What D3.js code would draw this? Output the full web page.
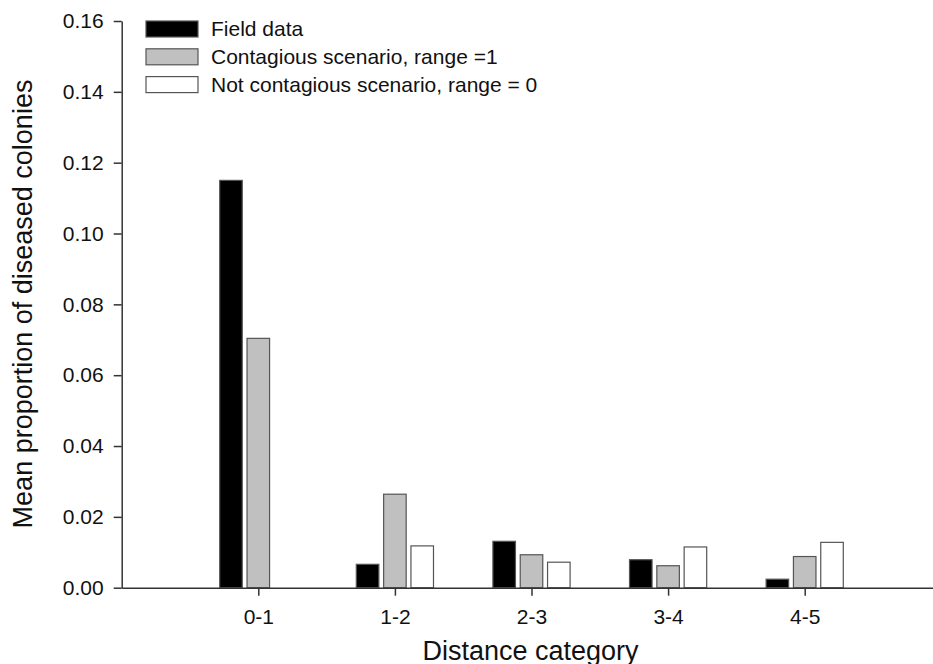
<!DOCTYPE html>
<html>
<head>
<meta charset="utf-8">
<script src="https://cdn.jsdelivr.net/npm/d3@7"></script>
<style>
  html, body { margin: 0; padding: 0; background: #fff; }
  svg { display: block; font-family: Arial, "Liberation Sans", sans-serif; }
</style>
</head>
<body>
<svg id="chart" width="933" height="664"></svg>
<script>
// Distance categories and mean proportion of diseased colonies per series
const categories = ["0-1", "1-2", "2-3", "3-4", "4-5"];
const fieldData = [0.115, 0.0066, 0.0131, 0.0079, 0.0024];
const contagious = [0.0704, 0.0264, 0.0093, 0.0062, 0.0088];
const notContagious = [0, 0.0118, 0.0072, 0.0115, 0.0128];
const seriesNames = ["Field data", "Contagious scenario, range =1", "Not contagious scenario, range = 0"];
const yTicks = [0, 0.02, 0.04, 0.06, 0.08, 0.10, 0.12, 0.14, 0.16];

const series = [
  { name: seriesNames[0], values: fieldData, fill: "#000000" },
  { name: seriesNames[1], values: contagious, fill: "#c0c0c0" },
  { name: seriesNames[2], values: notContagious, fill: "#ffffff" }
];

const svg = d3.select("#chart");
const axisColor = "#333";
const barStroke = "#555";

// Category positions 1..5 on a 0..6 axis
const x = d3.scaleLinear().domain([0, 6]).range([121.7, 941.3]);
const y = d3.scaleLinear().domain([0, 0.16]).range([587.7, 21]);

const barW = 0.165;   // bar width in category units
const pitch = 0.2;    // spacing between bars in a group

// Bars
series.forEach((s, si) => {
  const offset = (si - 1) * pitch;
  svg.append("g").selectAll("rect")
    .data(s.values.map((v, i) => ({ v, i })).filter(d => d.v > 0))
    .join("rect")
    .attr("x", d => x(d.i + 1 + offset - barW / 2))
    .attr("width", d => x(d.i + 1 + offset + barW / 2) - x(d.i + 1 + offset - barW / 2))
    .attr("y", d => y(d.v))
    .attr("height", d => y(0) - y(d.v))
    .attr("fill", s.fill)
    .attr("stroke", barStroke)
    .attr("stroke-width", 1.2);
});

// Y axis
const yAxis = svg.append("g")
  .attr("transform", `translate(${x(0)},0)`)
  .call(d3.axisLeft(y).tickValues(yTicks).tickFormat(d3.format(".2f")).tickSize(8).tickSizeOuter(0).tickPadding(10));
yAxis.select(".domain").attr("stroke", axisColor).attr("stroke-width", 1.5);
yAxis.selectAll(".tick line").attr("stroke", axisColor).attr("stroke-width", 1.5);
yAxis.selectAll(".tick text").attr("fill", "#111").style("font-size", "21px");

// X axis
const xAxis = svg.append("g")
  .attr("transform", `translate(0,${y(0)})`)
  .call(d3.axisBottom(x).tickValues(d3.range(1, categories.length + 1))
    .tickFormat(d => categories[d - 1]).tickSize(8).tickSizeOuter(0).tickPadding(13));
xAxis.select(".domain").attr("stroke", axisColor).attr("stroke-width", 1.5);
xAxis.selectAll(".tick line").attr("stroke", axisColor).attr("stroke-width", 1.5);
xAxis.selectAll(".tick text").attr("fill", "#111").style("font-size", "21px");

// Axis titles
svg.append("text")
  .attr("x", 530.5)
  .attr("y", 659.5)
  .attr("text-anchor", "middle")
  .attr("fill", "#111")
  .style("font-size", "27px")
  .text("Distance category");

svg.append("text")
  .attr("transform", "translate(32,304) rotate(-90)")
  .attr("text-anchor", "middle")
  .attr("fill", "#111")
  .style("font-size", "27px")
  .text("Mean proportion of diseased colonies");

// Legend
const legend = svg.append("g").attr("transform", "translate(146,21)");
series.forEach((s, i) => {
  const row = legend.append("g").attr("transform", `translate(0,${i * 27.8})`);
  row.append("rect")
    .attr("width", 52).attr("height", 16)
    .attr("fill", s.fill)
    .attr("stroke", barStroke)
    .attr("stroke-width", 1.2);
  row.append("text")
    .attr("x", 65)
    .attr("y", 15)
    .attr("fill", "#111")
    .style("font-size", "21px")
    .text(s.name);
});
</script>
</body>
</html>
